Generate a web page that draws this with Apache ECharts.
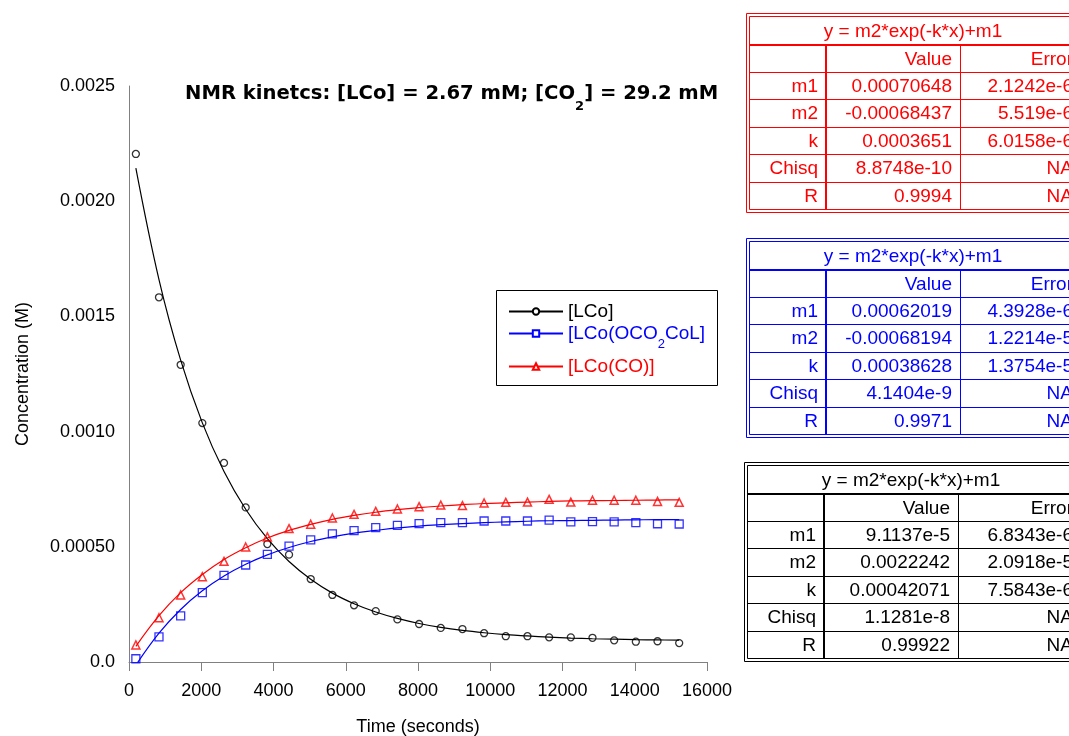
<!DOCTYPE html>
<html>
<head>
<meta charset="utf-8">
<script src="https://cdn.jsdelivr.net/npm/echarts@6/dist/echarts.min.js"></script>
<style>
  html, body { margin: 0; padding: 0; background: #fff; }
  #chart { width: 1069px; height: 736px; }
</style>
</head>
<body>
<div id="chart"></div>
<script>
// sample times (s)
const times = [190, 830, 1430, 2030, 2630, 3230, 3830, 4430, 5030, 5630, 6230, 6830, 7430,
  8030, 8630, 9230, 9830, 10430, 11030, 11630, 12230, 12830, 13430, 14030, 14630, 15230];

// measured concentrations (M)
const lco = [0.002205, 0.001583, 0.00129, 0.001037, 0.000864, 0.000671, 0.000512, 0.000466,
  0.00036, 0.000291, 0.000246, 0.000221, 0.000185, 0.000165, 0.000148, 0.000143, 0.000125,
  0.000112, 0.000112, 0.000107, 0.000107, 0.000105, 0.000094, 0.000088, 0.00009, 0.000082];
const lcoOco = [0.000014, 0.000109, 0.0002, 0.000301, 0.000376, 0.000421, 0.000467, 0.000503,
  0.00053, 0.000556, 0.00057, 0.000583, 0.000593, 0.000601, 0.000605, 0.000605, 0.000612,
  0.000612, 0.000612, 0.000616, 0.000608, 0.000609, 0.000608, 0.000605, 0.0006, 0.000599];
const lcoCo = [0.000074, 0.000192, 0.000291, 0.00037, 0.000437, 0.000499, 0.000543, 0.000579,
  0.000598, 0.000625, 0.000641, 0.000654, 0.000664, 0.000674, 0.000681, 0.000679, 0.00069,
  0.000693, 0.000694, 0.000706, 0.000694, 0.000702, 0.000702, 0.000702, 0.000697, 0.000693];

// fitted curves read at the same times
const lcoFit = [0.002144, 0.00166, 0.00131, 0.001038, 0.000827, 0.000663, 0.000535, 0.000436,
  0.000359, 0.000299, 0.000253, 0.000217, 0.000189, 0.000167, 0.00015, 0.000137, 0.000127,
  0.000119, 0.000113, 0.000108, 0.000104, 0.000101, 0.0000989, 0.0000972, 0.0000958, 0.0000948];
const lcoOcoFit = [-0.0000135, 0.000125, 0.000228, 0.000309, 0.000373, 0.000424, 0.000465,
  0.000497, 0.000523, 0.000543, 0.000559, 0.000571, 0.000582, 0.00059, 0.000596, 0.000601,
  0.000605, 0.000608, 0.000611, 0.000613, 0.000614, 0.000615, 0.000616, 0.000617, 0.000618, 0.000618];
const lcoCoFit = [0.000068, 0.000201, 0.000301, 0.00038, 0.000445, 0.000496, 0.000538, 0.000571,
  0.000597, 0.000619, 0.000636, 0.00065, 0.000661, 0.00067, 0.000677, 0.000683, 0.000688,
  0.000691, 0.000694, 0.000697, 0.000699, 0.0007, 0.000701, 0.000702, 0.000703, 0.000704];

const yTickLabels = ['0.0', '0.00050', '0.0010', '0.0015', '0.0020', '0.0025'];

// fit result tables
const fitFormula = 'y = m2*exp(-k*x)+m1';
const fitParams = ['m1', 'm2', 'k', 'Chisq', 'R'];
const coValues = ['0.00070648', '-0.00068437', '0.0003651', '8.8748e-10', '0.9994'];
const coErrors = ['2.1242e-6', '5.519e-6', '6.0158e-6', 'NA', 'NA'];
const ocoValues = ['0.00062019', '-0.00068194', '0.00038628', '4.1404e-9', '0.9971'];
const ocoErrors = ['4.3928e-6', '1.2214e-5', '1.3754e-5', 'NA', 'NA'];
const lcoValues = ['9.1137e-5', '0.0022242', '0.00042071', '1.1281e-8', '0.99922'];
const lcoErrors = ['6.8343e-6', '2.0918e-5', '7.5843e-6', 'NA', 'NA'];

const BLACK = '#000000';
const BLUE = '#0000ff';
const RED = '#ff0000';
const FONT = '"Liberation Sans", Arial, sans-serif';

function pairs(ys) {
    return times.map((t, i) => [t, ys[i]]);
}

function buildTable(left, top, color, values, errors) {
    const els = [];
    const right = 1085;
    const text = (x, y, s, align) => ({
        type: 'text', x: x, y: y, silent: true,
        style: {
            text: s, fill: color, font: '19px ' + FONT,
            align: align, verticalAlign: 'middle',
            textAlign: align, textVerticalAlign: 'middle'
        }
    });
    const line = (x1, y1, x2, y2, w) => ({
        type: 'line', silent: true,
        shape: {x1: x1, y1: y1, x2: x2, y2: y2},
        style: {stroke: color, lineWidth: w}
    });
    // double outer border
    els.push({type: 'rect', silent: true, shape: {x: left + 0.5, y: top + 0.5, width: right - left, height: 199},
        style: {fill: 'none', stroke: color, lineWidth: 1}});
    els.push({type: 'rect', silent: true, shape: {x: left + 3.5, y: top + 3.5, width: right - left, height: 193},
        style: {fill: 'none', stroke: color, lineWidth: 1}});
    const titleBottom = top + 32;
    const headBottom = top + 59;
    const rowH = 27.4;
    const c1 = left + 80;
    const c2 = left + 214;
    els.push(line(left + 3, titleBottom, right, titleBottom, 2));
    els.push(line(left + 3, headBottom + 0.5, right, headBottom + 0.5, 1));
    for (let i = 1; i < 5; i++) {
        const y = Math.round(headBottom + rowH * i) + 0.5;
        els.push(line(left + 3, y, right, y, 1));
    }
    els.push(line(c1, titleBottom, c1, top + 196, 2));
    els.push(line(c2 + 0.5, titleBottom, c2 + 0.5, top + 196, 1));
    els.push(text(left + 167, top + 18.5, fitFormula, 'center'));
    els.push(text(c2 - 8, (titleBottom + headBottom) / 2 + 1, 'Value', 'right'));
    els.push(text(1073, (titleBottom + headBottom) / 2 + 1, 'Error', 'right'));
    fitParams.forEach((p, i) => {
        const yc = headBottom + rowH * (i + 0.5) + 1;
        els.push(text(c1 - 8, yc, p, 'right'));
        els.push(text(c2 - 8, yc, values[i], 'right'));
        els.push(text(1073, yc, errors[i], 'right'));
    });
    return els;
}

const chartDom = document.getElementById('chart');
const myChart = echarts.init(chartDom, null, {renderer: 'canvas'});

const legendBase = {
    orient: 'vertical',
    left: 508,
    itemWidth: 54,
    itemHeight: 8,
    itemGap: 0,
    padding: 0,
    selectedMode: false
};

const options = {
    backgroundColor: '#fff',
    animation: false,
    title: {
        text: 'NMR kinetcs: [LCo] = 2.67 mM; [CO{s|2}] = 29.2 mM',
        left: 185,
        top: 74,
        padding: 0,
        textStyle: {
            fontFamily: '"DejaVu Sans", sans-serif',
            fontSize: 19.6,
            fontWeight: 'bold',
            color: '#000',
            rich: {
                s: {fontFamily: '"DejaVu Sans", sans-serif', fontSize: 13, fontWeight: 'bold', color: '#000', padding: [26, 0, 0, 0]}
            }
        }
    },
    legend: [
        Object.assign({}, legendBase, {
            top: 302,
            data: [{name: '[LCo]', textStyle: {color: BLACK}}],
            textStyle: {fontFamily: FONT, fontSize: 19, color: BLACK}
        }),
        Object.assign({}, legendBase, {
            top: 324,
            data: [{name: '[LCo(OCO2CoL]'}],
            formatter: () => '[LCo(OCO{s|2}CoL]',
            textStyle: {
                fontFamily: FONT, fontSize: 19, color: BLUE,
                rich: {s: {fontFamily: FONT, fontSize: 13, color: BLUE, padding: [22, 0, 0, 0]}}
            }
        }),
        Object.assign({}, legendBase, {
            top: 357,
            data: [{name: '[LCo(CO)]', textStyle: {color: RED}}],
            textStyle: {fontFamily: FONT, fontSize: 19, color: RED}
        })
    ],
    graphic: [
        {type: 'rect', silent: true, shape: {x: 496.5, y: 290.5, width: 221, height: 95},
            style: {fill: 'none', stroke: '#000', lineWidth: 1}}
    ].concat(
        buildTable(746, 13, RED, coValues, coErrors),
        buildTable(746, 238, BLUE, ocoValues, ocoErrors),
        buildTable(744, 462, BLACK, lcoValues, lcoErrors)
    ),
    grid: {
        left: 129,
        right: 362,
        top: 86,
        bottom: 74,
        containLabel: false,
        outerBoundsMode: 'none'
    },
    xAxis: {
        type: 'value',
        min: 0,
        max: 16000,
        interval: 2000,
        name: 'Time (seconds)',
        nameLocation: 'middle',
        nameGap: 56,
        nameTextStyle: {fontFamily: FONT, fontSize: 18, color: '#000'},
        axisLine: {lineStyle: {color: '#808080', width: 1}},
        axisTick: {show: true, length: 9, lineStyle: {color: '#808080'}},
        axisLabel: {
            fontFamily: FONT, fontSize: 18, color: '#000', margin: 20,
            formatter: v => String(v)
        },
        splitLine: {show: false}
    },
    yAxis: {
        type: 'value',
        min: 0,
        max: 0.0025,
        interval: 0.0005,
        name: 'Concentration (M)',
        nameLocation: 'middle',
        nameGap: 97,
        nameTextStyle: {fontFamily: FONT, fontSize: 18, color: '#000'},
        axisLine: {show: true, lineStyle: {color: '#808080', width: 1}},
        axisTick: {show: false},
        axisLabel: {
            fontFamily: FONT, fontSize: 18, color: '#000', margin: 14,
            formatter: (v, idx) => yTickLabels[idx]
        },
        splitLine: {show: false}
    },
    series: [
        {
            name: '[LCo]', type: 'line', data: pairs(lcoFit), smooth: 0.4,
            showSymbol: false, symbol: 'circle', symbolSize: 7,
            lineStyle: {color: BLACK, width: 1.2},
            itemStyle: {color: '#fff', borderColor: BLACK, borderWidth: 1.2},
            z: 2
        },
        {
            name: '[LCo(OCO2CoL]', type: 'line', data: pairs(lcoOcoFit), smooth: 0.4,
            showSymbol: false, symbol: 'rect', symbolSize: 7,
            lineStyle: {color: BLUE, width: 1.2},
            itemStyle: {color: '#fff', borderColor: BLUE, borderWidth: 1.2},
            z: 2
        },
        {
            name: '[LCo(CO)]', type: 'line', data: pairs(lcoCoFit), smooth: 0.4,
            showSymbol: false, symbol: 'triangle', symbolSize: 7,
            lineStyle: {color: RED, width: 1.2},
            itemStyle: {color: '#fff', borderColor: RED, borderWidth: 1.2},
            z: 2
        },
        {
            name: '[LCo]', type: 'scatter', data: pairs(lco),
            symbol: 'circle', symbolSize: 7,
            itemStyle: {color: 'rgba(0,0,0,0)', borderColor: BLACK, borderWidth: 1.3},
            z: 3
        },
        {
            name: '[LCo(OCO2CoL]', type: 'scatter', data: pairs(lcoOco),
            symbol: 'rect', symbolSize: 8,
            itemStyle: {color: 'rgba(0,0,0,0)', borderColor: BLUE, borderWidth: 1.3},
            z: 3
        },
        {
            name: '[LCo(CO)]', type: 'scatter', data: pairs(lcoCo),
            symbol: 'triangle', symbolSize: 8,
            itemStyle: {color: 'rgba(0,0,0,0)', borderColor: RED, borderWidth: 1.5},
            z: 3
        }
    ]
};

myChart.setOption(options);

window.addEventListener('resize', () => {
    myChart.resize();
});
</script>
</body>
</html>
